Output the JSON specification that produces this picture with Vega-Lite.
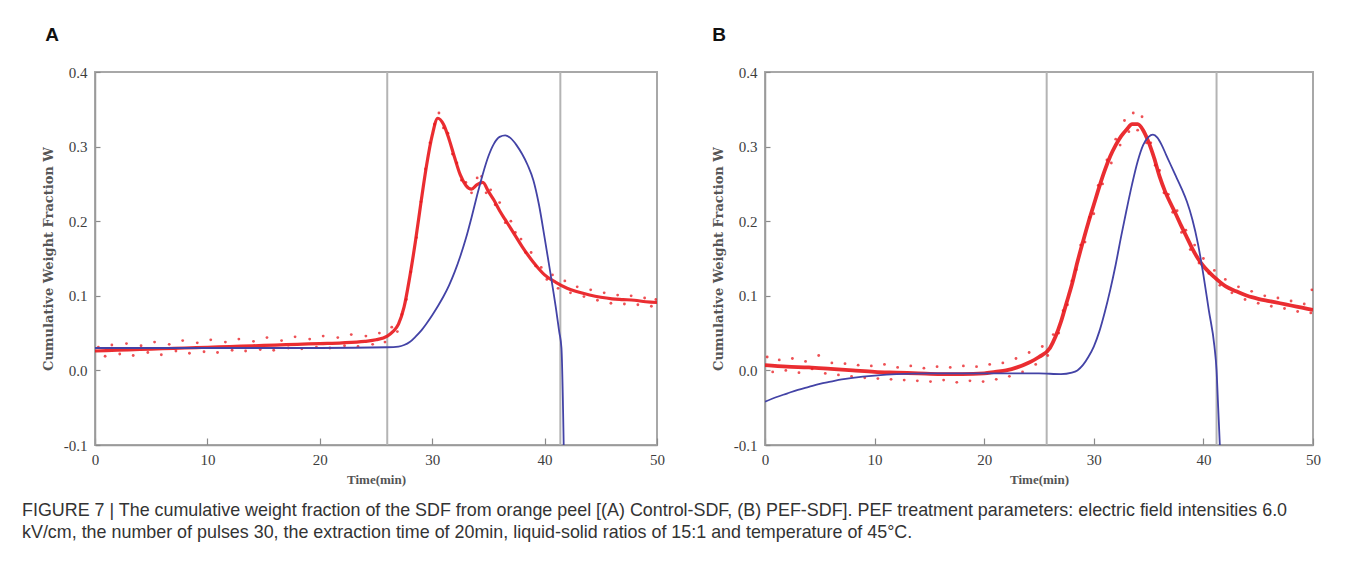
{
  "$schema": "https://vega.github.io/schema/vega-lite/v6.json",
  "background": "white",
  "padding": {"left": 22, "top": 25, "right": 10, "bottom": 10},
  "datasets": {
    "rulesA": [{"x": 26.0}, {"x": 41.4}],
    "rulesB": [{"x": 25.7}, {"x": 41.2}],
    "redA": [
      {"x":0,"y":0.026},{"x":2,"y":0.027},{"x":4,"y":0.028},{"x":6,"y":0.029},{"x":8,"y":0.03},{"x":10,"y":0.031},{"x":12,"y":0.032},{"x":14,"y":0.033},{"x":16,"y":0.034},{"x":18,"y":0.035},{"x":20,"y":0.036},{"x":22,"y":0.037},{"x":24,"y":0.039},{"x":25,"y":0.041},{"x":26,"y":0.046},{"x":26.5,"y":0.052},{"x":27,"y":0.062},{"x":27.5,"y":0.085},{"x":28,"y":0.125},{"x":28.5,"y":0.172},{"x":29,"y":0.225},{"x":29.5,"y":0.275},{"x":30,"y":0.315},{"x":30.5,"y":0.338},{"x":31,"y":0.33},{"x":31.5,"y":0.31},{"x":32,"y":0.285},{"x":32.5,"y":0.262},{"x":33,"y":0.248},{"x":33.5,"y":0.243},{"x":34,"y":0.249},{"x":34.5,"y":0.252},{"x":35,"y":0.24},{"x":35.5,"y":0.228},{"x":36,"y":0.214},{"x":36.5,"y":0.202},{"x":37,"y":0.19},{"x":37.5,"y":0.178},{"x":38,"y":0.166},{"x":38.5,"y":0.155},{"x":39,"y":0.145},{"x":39.5,"y":0.136},{"x":40,"y":0.128},{"x":41,"y":0.118},{"x":42,"y":0.11},{"x":43,"y":0.105},{"x":44,"y":0.101},{"x":45,"y":0.098},{"x":46,"y":0.096},{"x":47,"y":0.095},{"x":48,"y":0.094},{"x":49,"y":0.092},{"x":50,"y":0.091}
    ],
    "ptsA": [
      {"x":0.3,"y":0.031},{"x":0.9,"y":0.019},{"x":1.5,"y":0.034},{"x":2.2,"y":0.022},{"x":2.8,"y":0.036},{"x":3.4,"y":0.02},{"x":4.1,"y":0.033},{"x":4.7,"y":0.024},{"x":5.3,"y":0.038},{"x":5.9,"y":0.021},{"x":6.6,"y":0.035},{"x":7.2,"y":0.026},{"x":7.8,"y":0.04},{"x":8.4,"y":0.023},{"x":9.1,"y":0.037},{"x":9.7,"y":0.025},{"x":10.3,"y":0.041},{"x":10.9,"y":0.024},{"x":11.6,"y":0.038},{"x":12.2,"y":0.027},{"x":12.8,"y":0.042},{"x":13.4,"y":0.026},{"x":14.1,"y":0.039},{"x":14.7,"y":0.028},{"x":15.3,"y":0.044},{"x":15.9,"y":0.027},{"x":16.6,"y":0.04},{"x":17.2,"y":0.03},{"x":17.8,"y":0.045},{"x":18.4,"y":0.029},{"x":19.1,"y":0.042},{"x":19.7,"y":0.031},{"x":20.3,"y":0.046},{"x":20.9,"y":0.03},{"x":21.6,"y":0.044},{"x":22.2,"y":0.033},{"x":22.8,"y":0.048},{"x":23.4,"y":0.032},{"x":24.1,"y":0.046},{"x":24.7,"y":0.035},{"x":25.3,"y":0.05},{"x":25.8,"y":0.038},{"x":26.4,"y":0.058},{"x":26.9,"y":0.052},{"x":27.3,"y":0.075},{"x":27.7,"y":0.095},{"x":28.1,"y":0.132},{"x":28.6,"y":0.178},{"x":29.0,"y":0.226},{"x":29.4,"y":0.27},{"x":29.8,"y":0.305},{"x":30.2,"y":0.33},{"x":30.6,"y":0.345},{"x":31.0,"y":0.325},{"x":31.4,"y":0.318},{"x":31.8,"y":0.29},{"x":32.2,"y":0.278},{"x":32.6,"y":0.255},{"x":33.0,"y":0.252},{"x":33.5,"y":0.238},{"x":34.0,"y":0.258},{"x":34.4,"y":0.26},{"x":34.8,"y":0.238},{"x":35.2,"y":0.242},{"x":35.6,"y":0.222},{"x":36.0,"y":0.225},{"x":36.5,"y":0.198},{"x":37.0,"y":0.2},{"x":37.4,"y":0.185},{"x":37.9,"y":0.176},{"x":38.3,"y":0.158},{"x":38.8,"y":0.158},{"x":39.2,"y":0.14},{"x":39.7,"y":0.138},{"x":40.2,"y":0.122},{"x":40.7,"y":0.128},{"x":41.2,"y":0.11},{"x":41.8,"y":0.12},{"x":42.3,"y":0.104},{"x":42.9,"y":0.112},{"x":43.5,"y":0.099},{"x":44.1,"y":0.108},{"x":44.7,"y":0.094},{"x":45.3,"y":0.104},{"x":45.9,"y":0.09},{"x":46.5,"y":0.101},{"x":47.1,"y":0.089},{"x":47.7,"y":0.1},{"x":48.3,"y":0.088},{"x":48.9,"y":0.097},{"x":49.5,"y":0.086},{"x":49.9,"y":0.095}
    ],
    "blueA": [
      {"x":0,"y":0.03},{"x":10,"y":0.03},{"x":20,"y":0.03},{"x":26,"y":0.031},{"x":27,"y":0.032},{"x":27.5,"y":0.034},{"x":28,"y":0.038},{"x":28.5,"y":0.045},{"x":29,"y":0.053},{"x":29.5,"y":0.063},{"x":30,"y":0.074},{"x":30.5,"y":0.086},{"x":31,"y":0.099},{"x":31.5,"y":0.114},{"x":32,"y":0.132},{"x":32.5,"y":0.153},{"x":33,"y":0.177},{"x":33.5,"y":0.205},{"x":34,"y":0.235},{"x":34.5,"y":0.263},{"x":35,"y":0.287},{"x":35.5,"y":0.304},{"x":36,"y":0.313},{"x":36.5,"y":0.315},{"x":37,"y":0.311},{"x":37.5,"y":0.302},{"x":38,"y":0.29},{"x":38.5,"y":0.275},{"x":39,"y":0.255},{"x":39.5,"y":0.222},{"x":40,"y":0.178},{"x":40.5,"y":0.132},{"x":41,"y":0.084},{"x":41.3,"y":0.052},{"x":41.5,"y":0.03},{"x":41.7,"y":-0.1}
    ],
    "redB": [
      {"x":0,"y":0.007},{"x":2,"y":0.005},{"x":4,"y":0.004},{"x":6,"y":0.002},{"x":8,"y":0.0},{"x":10,"y":-0.002},{"x":12,"y":-0.003},{"x":14,"y":-0.004},{"x":16,"y":-0.005},{"x":18,"y":-0.005},{"x":20,"y":-0.004},{"x":21,"y":-0.002},{"x":22,"y":0.0},{"x":23,"y":0.004},{"x":24,"y":0.01},{"x":25,"y":0.018},{"x":26,"y":0.03},{"x":26.5,"y":0.045},{"x":27,"y":0.065},{"x":27.5,"y":0.09},{"x":28,"y":0.115},{"x":28.5,"y":0.145},{"x":29,"y":0.172},{"x":29.5,"y":0.198},{"x":30,"y":0.222},{"x":30.5,"y":0.246},{"x":31,"y":0.268},{"x":31.5,"y":0.287},{"x":32,"y":0.302},{"x":32.5,"y":0.314},{"x":33,"y":0.323},{"x":33.5,"y":0.33},{"x":34,"y":0.33},{"x":34.5,"y":0.322},{"x":35,"y":0.306},{"x":35.5,"y":0.285},{"x":36,"y":0.26},{"x":36.5,"y":0.24},{"x":37,"y":0.224},{"x":37.5,"y":0.209},{"x":38,"y":0.193},{"x":38.5,"y":0.178},{"x":39,"y":0.163},{"x":39.5,"y":0.15},{"x":40,"y":0.14},{"x":41,"y":0.125},{"x":42,"y":0.113},{"x":43,"y":0.106},{"x":44,"y":0.1},{"x":45,"y":0.096},{"x":46,"y":0.093},{"x":47,"y":0.09},{"x":48,"y":0.087},{"x":49,"y":0.084},{"x":50,"y":0.081}
    ],
    "ptsB": [
      {"x":0.2,"y":0.018},{"x":0.7,"y":-0.002},{"x":1.3,"y":0.014},{"x":1.9,"y":0.0},{"x":2.5,"y":0.016},{"x":3.1,"y":-0.003},{"x":3.7,"y":0.012},{"x":4.3,"y":0.002},{"x":4.9,"y":0.02},{"x":5.5,"y":-0.004},{"x":6.1,"y":0.01},{"x":6.7,"y":-0.006},{"x":7.3,"y":0.009},{"x":7.9,"y":-0.008},{"x":8.5,"y":0.007},{"x":9.1,"y":-0.01},{"x":9.7,"y":0.006},{"x":10.3,"y":-0.011},{"x":10.9,"y":0.008},{"x":11.5,"y":-0.012},{"x":12.1,"y":0.004},{"x":12.7,"y":-0.013},{"x":13.3,"y":0.006},{"x":13.9,"y":-0.014},{"x":14.5,"y":0.003},{"x":15.1,"y":-0.015},{"x":15.7,"y":0.005},{"x":16.3,"y":-0.013},{"x":16.9,"y":0.004},{"x":17.5,"y":-0.016},{"x":18.1,"y":0.006},{"x":18.7,"y":-0.014},{"x":19.3,"y":0.005},{"x":19.9,"y":-0.015},{"x":20.5,"y":0.008},{"x":21.1,"y":-0.012},{"x":21.7,"y":0.01},{"x":22.3,"y":-0.008},{"x":22.9,"y":0.016},{"x":23.5,"y":-0.002},{"x":24.1,"y":0.024},{"x":24.7,"y":0.008},{"x":25.3,"y":0.032},{"x":25.8,"y":0.02},{"x":26.3,"y":0.048},{"x":26.8,"y":0.05},{"x":27.2,"y":0.08},{"x":27.6,"y":0.088},{"x":28.0,"y":0.12},{"x":28.4,"y":0.135},{"x":28.8,"y":0.168},{"x":29.2,"y":0.172},{"x":29.6,"y":0.205},{"x":30.0,"y":0.21},{"x":30.4,"y":0.248},{"x":30.8,"y":0.25},{"x":31.2,"y":0.282},{"x":31.6,"y":0.278},{"x":32.0,"y":0.31},{"x":32.4,"y":0.302},{"x":32.8,"y":0.335},{"x":33.2,"y":0.32},{"x":33.6,"y":0.345},{"x":34.0,"y":0.322},{"x":34.4,"y":0.34},{"x":34.8,"y":0.305},{"x":35.2,"y":0.305},{"x":35.6,"y":0.275},{"x":36.0,"y":0.268},{"x":36.4,"y":0.238},{"x":36.8,"y":0.236},{"x":37.2,"y":0.212},{"x":37.6,"y":0.214},{"x":38.0,"y":0.185},{"x":38.4,"y":0.188},{"x":38.8,"y":0.162},{"x":39.2,"y":0.168},{"x":39.6,"y":0.144},{"x":40.0,"y":0.15},{"x":40.5,"y":0.13},{"x":41.0,"y":0.134},{"x":41.5,"y":0.114},{"x":42.0,"y":0.122},{"x":42.6,"y":0.104},{"x":43.2,"y":0.112},{"x":43.8,"y":0.095},{"x":44.4,"y":0.106},{"x":45.0,"y":0.09},{"x":45.6,"y":0.1},{"x":46.2,"y":0.086},{"x":46.8,"y":0.097},{"x":47.4,"y":0.083},{"x":48.0,"y":0.093},{"x":48.6,"y":0.079},{"x":49.2,"y":0.089},{"x":49.8,"y":0.077},{"x":49.9,"y":0.108}
    ],
    "blueB": [
      {"x":0,"y":-0.042},{"x":1,"y":-0.036},{"x":2,"y":-0.031},{"x":3,"y":-0.026},{"x":4,"y":-0.022},{"x":5,"y":-0.018},{"x":6,"y":-0.015},{"x":7,"y":-0.012},{"x":8,"y":-0.01},{"x":10,"y":-0.007},{"x":12,"y":-0.005},{"x":15,"y":-0.004},{"x":20,"y":-0.004},{"x":25,"y":-0.004},{"x":27,"y":-0.005},{"x":28,"y":-0.003},{"x":28.5,"y":0.0},{"x":29,"y":0.007},{"x":29.5,"y":0.018},{"x":30,"y":0.032},{"x":30.5,"y":0.052},{"x":31,"y":0.078},{"x":31.5,"y":0.108},{"x":32,"y":0.142},{"x":32.5,"y":0.18},{"x":33,"y":0.216},{"x":33.5,"y":0.25},{"x":34,"y":0.28},{"x":34.5,"y":0.302},{"x":35,"y":0.313},{"x":35.4,"y":0.316},{"x":35.8,"y":0.312},{"x":36.2,"y":0.302},{"x":36.6,"y":0.289},{"x":37,"y":0.276},{"x":37.5,"y":0.26},{"x":38,"y":0.244},{"x":38.5,"y":0.226},{"x":39,"y":0.202},{"x":39.5,"y":0.17},{"x":40,"y":0.128},{"x":40.5,"y":0.08},{"x":41,"y":0.033},{"x":41.2,"y":0.0},{"x":41.35,"y":-0.05},{"x":41.5,"y":-0.1}
    ]
  },
  "title": {
    "text": [
      "FIGURE 7 | The cumulative weight fraction of the SDF from orange peel [(A) Control-SDF, (B) PEF-SDF]. PEF treatment parameters: electric field intensities 6.0",
      "kV/cm, the number of pulses 30, the extraction time of 20min, liquid-solid ratios of 15:1 and temperature of 45°C."
    ],
    "orient": "bottom",
    "anchor": "start",
    "frame": "group",
    "font": "Liberation Sans",
    "fontSize": 17.9,
    "fontWeight": "normal",
    "color": "#333333",
    "lineHeight": 22,
    "offset": 15,
    "dx": -73
  },
  "spacing": 45,
  "hconcat": [
    {
      "width": 562,
      "height": 373,
      "title": {"text": "A", "anchor": "start", "frame": "bounds", "font": "Liberation Sans", "fontSize": 19, "fontWeight": "bold", "color": "#111111", "offset": 20, "dx": 3},
      "layer": [
        {
          "data": {"name": "rulesA"},
          "mark": {"type": "rule", "color": "#b4b4b4", "strokeWidth": 2},
          "encoding": {
            "x": {"field": "x", "type": "quantitative", "scale": {"domain": [0, 50], "nice": false, "zero": false},
              "axis": {"title": "Time(min)", "values": [0,10,20,30,40,50], "format": "d",
                "labelOverlap": false, "labelFlush": false, "tickSize": -7, "labelPadding": 14}}
          }
        },
        {
          "data": {"name": "ptsA"},
          "mark": {"type": "point", "filled": true, "size": 8, "color": "#e8161b", "opacity": 0.75, "clip": true},
          "encoding": {
            "x": {"field": "x", "type": "quantitative"},
            "y": {"field": "y", "type": "quantitative", "scale": {"domain": [-0.1, 0.4], "nice": false, "zero": false},
              "axis": {"title": "Cumulative Weight Fraction W", "values": [-0.1, 0, 0.1, 0.2, 0.3, 0.4],
                "labelExpr": "datum.value < 0 ? '-' + format(-datum.value, '.1f') : format(datum.value, '.1f')",
                "labelOverlap": false, "labelFlush": false, "tickSize": -5, "labelPadding": 13}}
          }
        },
        {
          "data": {"name": "redA"},
          "mark": {"type": "line", "color": "#e8161b", "strokeWidth": 3.2, "opacity": 0.9, "interpolate": "monotone", "clip": true},
          "encoding": {"x": {"field": "x", "type": "quantitative"}, "y": {"field": "y", "type": "quantitative"}}
        },
        {
          "data": {"name": "blueA"},
          "mark": {"type": "line", "color": "#4343a6", "strokeWidth": 1.8, "interpolate": "monotone", "clip": true},
          "encoding": {"x": {"field": "x", "type": "quantitative"}, "y": {"field": "y", "type": "quantitative"}}
        }
      ]
    },
    {
      "width": 548,
      "height": 373,
      "title": {"text": "B", "anchor": "start", "frame": "bounds", "font": "Liberation Sans", "fontSize": 19, "fontWeight": "bold", "color": "#111111", "offset": 20},
      "layer": [
        {
          "data": {"name": "rulesB"},
          "mark": {"type": "rule", "color": "#b4b4b4", "strokeWidth": 2},
          "encoding": {
            "x": {"field": "x", "type": "quantitative", "scale": {"domain": [0, 50], "nice": false, "zero": false},
              "axis": {"title": "Time(min)", "values": [0,10,20,30,40,50], "format": "d",
                "labelOverlap": false, "labelFlush": false, "tickSize": -7, "labelPadding": 14}}
          }
        },
        {
          "data": {"name": "ptsB"},
          "mark": {"type": "point", "filled": true, "size": 8, "color": "#e8161b", "opacity": 0.75, "clip": true},
          "encoding": {
            "x": {"field": "x", "type": "quantitative"},
            "y": {"field": "y", "type": "quantitative", "scale": {"domain": [-0.1, 0.4], "nice": false, "zero": false},
              "axis": {"title": "Cumulative Weight Fraction W", "values": [-0.1, 0, 0.1, 0.2, 0.3, 0.4],
                "labelExpr": "datum.value < 0 ? '-' + format(-datum.value, '.1f') : format(datum.value, '.1f')",
                "labelOverlap": false, "labelFlush": false, "tickSize": -5, "labelPadding": 13}}
          }
        },
        {
          "data": {"name": "redB"},
          "mark": {"type": "line", "color": "#e8161b", "strokeWidth": 3.8, "opacity": 0.9, "interpolate": "monotone", "clip": true},
          "encoding": {"x": {"field": "x", "type": "quantitative"}, "y": {"field": "y", "type": "quantitative"}}
        },
        {
          "data": {"name": "blueB"},
          "mark": {"type": "line", "color": "#4343a6", "strokeWidth": 1.8, "interpolate": "monotone", "clip": true},
          "encoding": {"x": {"field": "x", "type": "quantitative"}, "y": {"field": "y", "type": "quantitative"}}
        }
      ]
    }
  ],
  "config": {
    "view": {"stroke": "#a8a8a8", "strokeWidth": 2},
    "axis": {
      "grid": false,
      "domainColor": "#9a9a9a",
      "domainWidth": 1.5,
      "tickColor": "#8a8a8a",
      "tickWidth": 1.2,
      "labelFont": "Liberation Serif",
      "labelFontSize": 15,
      "labelColor": "#3d3d3d",
      "labelOverlap": false,
      "titleFont": "Liberation Serif",
      "titleFontSize": 13,
      "titleFontWeight": "bold",
      "titleColor": "#555555"
    },
    "axisX": {"titlePadding": 6},
    "axisY": {"titlePadding": 8, "titleFont": "DejaVu Serif", "titleFontSize": 13}
  }
}
